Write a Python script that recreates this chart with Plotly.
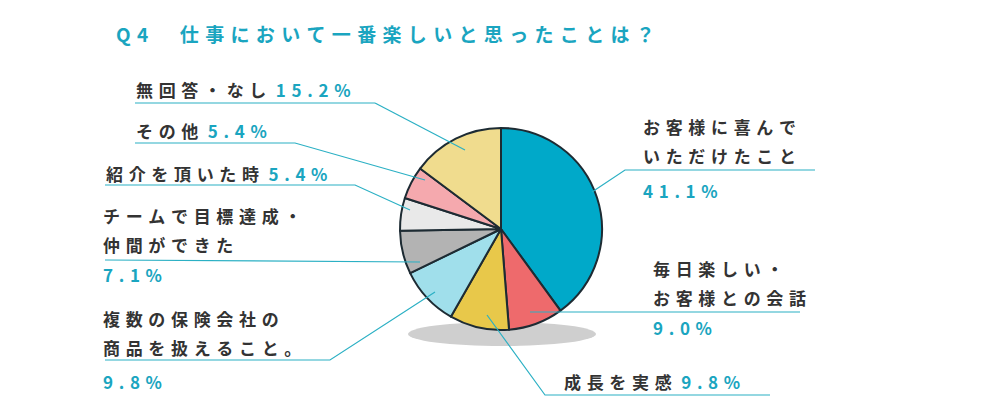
import plotly.graph_objects as go

labels = ["お客様に喜んでいただけたこと", "毎日楽しい・お客様との会話", "成長を実感", "複数の保険会社の商品を扱えること。",
          "チームで目標達成・仲間ができた", "紹介を頂いた時", "その他", "無回答・なし"]
values = [41.1, 9.0, 9.8, 9.8, 7.1, 5.4, 5.4, 15.2]
colors = ["#00a9c9", "#ee6a6c", "#e8c84a", "#a0dfeb", "#b3b3b3", "#e9e9e9", "#f5a9ae", "#f0dc8e"]

W, H = 1000, 416
OFF = 8
def px(x, y):
    return (x - OFF) / W, 1 - (y - OFF) / H

fig = go.Figure()
dx0, dy1 = px(400, 128); dx1, dy0 = px(602, 330)
fig.add_trace(go.Pie(labels=labels, values=values, sort=False, direction="clockwise", rotation=0,
                     marker=dict(colors=colors, line=dict(color="#1d2b33", width=2)),
                     textinfo="none", hoverinfo="label+value", showlegend=False,
                     domain=dict(x=[dx0, dx1], y=[dy0, dy1])))

shapes = []
x0, y0 = px(408, 322); x1, y1 = px(596, 346)
shapes.append(dict(type="circle", xref="paper", yref="paper", x0=x0, y0=y1, x1=x1, y1=y0,
                   fillcolor="#cfcfcf", line=dict(width=0), layer="below"))
LC = "#2bb0c4"
def path(pts):
    d = "M " + " L ".join(f"{px(x, y)[0]},{px(x, y)[1]}" for x, y in pts)
    shapes.append(dict(type="path", xref="paper", yref="paper", path=d, line=dict(color=LC, width=1.2)))

path([(375, 103), (135, 103)]); path([(375, 103), (465, 150)])
path([(135, 143), (295, 143), (425, 180)])
path([(105, 185), (355, 185), (410, 210)])
path([(105, 260), (420, 262)])
path([(105, 360), (330, 360), (435, 292)])
path([(770, 395), (545, 395), (487, 315)])
path([(800, 312), (530, 312)])
path([(815, 170), (625, 170), (592, 192)])
fig.update_layout(shapes=shapes)

TXT = "#333333"; TEAL = "#1aa5c0"
F = "Noto Sans CJK JP"
SP = "\u2004"
def sp(s):
    return SP.join(list(s))
def ann(x, y, text, anchor="left"):
    xx, yy = px(x, y)
    fig.add_annotation(x=xx, y=yy, xref="paper", yref="paper", text=text, showarrow=False,
                       xanchor=anchor, yanchor="middle", font=dict(family=F, size=17, color=TXT))
def t(s):
    return f"<b>{sp(s)}</b>"
def p(s):
    return f"<span style='color:{TEAL}'><b>{sp(s)}</b></span>"

tx, ty = px(114, 33)
fig.add_annotation(x=tx, y=ty, xref="paper", yref="paper", showarrow=False,
                   xanchor="left", yanchor="middle",
                   text="<b>" + sp("Q4　仕事において一番楽しいと思ったことは？") + "</b>",
                   font=dict(family=F, size=19, color=TEAL))
ann(134, 90, t("無回答・なし ") + p("15.2%"))
ann(134, 130, t("その他 ") + p("5.4%"))
ann(104, 173, t("紹介を頂いた時 ") + p("5.4%"))
ann(101, 215, t("チームで目標達成・"))
ann(101, 244, t("仲間ができた"))
ann(101, 274, p("7.1%"))
ann(101, 318, t("複数の保険会社の"))
ann(101, 347, t("商品を扱えること。"))
ann(101, 381, p("9.8%"))
ann(562, 381, t("成長を実感 ") + p("9.8%"))
ann(651, 268, t("毎日楽しい・"))
ann(651, 297, t("お客様との会話"))
ann(651, 327, p("9.0%"))
ann(641, 126, t("お客様に喜んで"))
ann(641, 155, t("いただけたこと"))
ann(641, 190, p("41.1%"))

fig.update_layout(width=W, height=H, margin=dict(l=0, r=0, t=0, b=0),
                  paper_bgcolor="white", plot_bgcolor="white")
fig.write_html("out.html")
